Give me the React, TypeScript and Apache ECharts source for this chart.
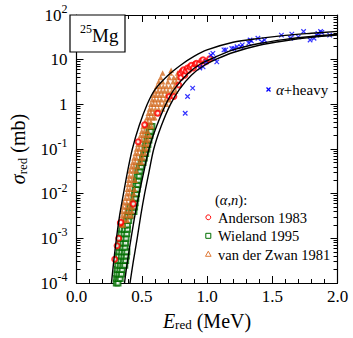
import React, { useEffect, useRef } from 'react';
import * as echarts from 'echarts';

const FONT = 'Liberation Serif';

// ---- data: [E_red (MeV), sigma_red (mb)] ----
const curveA: [number, number][] = [
  [0.268, 1e-4], [0.285, 3e-4], [0.306, 1e-3], [0.33, 3.2e-3], [0.36, 1e-2], [0.39, 3e-2],
  [0.428, 0.1], [0.48, 0.33], [0.542, 1], [0.6, 2.1], [0.7, 4.4], [0.8, 7.6], [0.9, 11.8],
  [1.0, 16.5], [1.2, 24.5], [1.4, 30], [1.6, 35], [1.8, 39], [2.0, 43],
];
const curveB: [number, number][] = [
  [0.368, 1e-4], [0.39, 3e-4], [0.418, 1e-3], [0.447, 3.2e-3], [0.48, 1e-2], [0.515, 3e-2],
  [0.555, 0.1], [0.615, 0.33], [0.684, 1], [0.75, 2.2], [0.85, 4.8], [0.95, 8], [1.05, 11],
  [1.2, 16.5], [1.4, 23], [1.6, 28.5], [1.8, 33], [2.0, 37],
];
const curveC: [number, number][] = [
  [0.41, 1e-4], [0.435, 3e-4], [0.465, 1e-3], [0.492, 3.2e-3], [0.522, 1e-2], [0.555, 3e-2],
  [0.592, 0.1], [0.65, 0.33], [0.72, 1], [0.79, 2.2], [0.88, 4.5], [0.98, 7.5], [1.08, 10.5],
  [1.2, 14.5], [1.4, 21], [1.6, 26.5], [1.8, 31.5], [2.0, 35.5],
];

const anderson1983: [number, number][] = [
  [0.293, 3.4e-4], [0.311, 6.8e-4], [0.323, 1e-3], [0.336, 2.2e-3], [0.34, 2.3e-3], [0.435, 5.9e-3],
  [0.472, 0.145], [0.522, 0.35], [0.622, 0.63], [0.71, 1.5], [0.746, 1.5], [0.784, 2.7],
  [0.796, 4.9], [0.80, 4.0], [0.81, 5.5], [0.82, 5.9], [0.83, 4.5], [0.84, 5.5], [0.85, 6.5],
  [0.86, 5.8], [0.87, 6.9], [0.88, 7.5], [0.896, 6.5], [0.91, 8], [0.92, 8.3], [0.94, 8],
  [0.96, 9.5], [0.97, 10], [0.99, 9], [1.02, 10.5],
];

const wieland1995: [number, number][] = [
  [0.305, 1e-4], [0.318, 1e-4],
  [0.308, 1.26e-4], [0.322, 1.26e-4], [0.335, 1.26e-4],
  [0.31, 1.6e-4], [0.327, 1.6e-4], [0.345, 1.6e-4],
  [0.313, 2e-4], [0.332, 2e-4], [0.35, 2e-4],
  [0.316, 2.5e-4], [0.336, 2.5e-4], [0.355, 2.5e-4], [0.37, 2.5e-4],
  [0.319, 3.2e-4], [0.34, 3.2e-4], [0.36, 3.2e-4], [0.377, 3.2e-4],
  [0.322, 4e-4], [0.343, 4e-4], [0.364, 4e-4], [0.382, 4e-4],
  [0.326, 5e-4], [0.347, 5e-4], [0.368, 5e-4], [0.386, 5e-4],
  [0.33, 6.3e-4], [0.352, 6.3e-4], [0.372, 6.3e-4],
  [0.334, 7.9e-4], [0.356, 7.9e-4], [0.376, 7.9e-4],
  [0.338, 1e-3], [0.36, 1e-3], [0.38, 1e-3],
  [0.342, 1.26e-3], [0.364, 1.26e-3], [0.385, 1.26e-3],
  [0.347, 1.6e-3], [0.368, 1.6e-3], [0.39, 1.6e-3],
  [0.37, 2e-3], [0.39, 2e-3],
  [0.38, 2.5e-3], [0.40, 2.5e-3],
  [0.39, 3.2e-3], [0.41, 3.2e-3],
  [0.40, 4e-3], [0.42, 4e-3], [0.44, 4e-3],
  [0.41, 5e-3], [0.43, 5e-3], [0.445, 5e-3],
  [0.435, 6.3e-3], [0.45, 6.3e-3],
  [0.44, 7.9e-3], [0.455, 7.9e-3],
  [0.445, 1e-2], [0.46, 1e-2],
  [0.45, 1.26e-2], [0.465, 1.26e-2],
  [0.455, 1.6e-2], [0.47, 1.6e-2],
  [0.46, 2e-2], [0.475, 2e-2],
  [0.465, 2.5e-2], [0.48, 2.5e-2],
  [0.47, 3.2e-2], [0.487, 3.2e-2],
  [0.48, 4e-2], [0.497, 4e-2],
  [0.495, 5e-2], [0.51, 5e-2],
  [0.505, 6.3e-2], [0.52, 6.3e-2],
  [0.515, 7.9e-2], [0.53, 7.9e-2],
  [0.525, 0.1], [0.54, 0.1],
  [0.53, 0.126], [0.547, 0.126],
  [0.54, 0.16], [0.555, 0.16],
  [0.548, 0.2], [0.563, 0.2],
  [0.556, 0.25], [0.57, 0.25],
  [0.565, 0.32], [0.578, 0.32],
];

const vanDerZwan1981: [number, number][] = [
  [0.345, 2e-3], [0.36, 2e-3],
  [0.345, 2.5e-3], [0.365, 2.5e-3], [0.39, 2.5e-3],
  [0.35, 3.2e-3], [0.37, 3.2e-3], [0.40, 3.2e-3], [0.42, 3.2e-3],
  [0.35, 4e-3], [0.375, 4e-3], [0.40, 4e-3], [0.425, 4e-3],
  [0.355, 5e-3], [0.38, 5e-3], [0.405, 5e-3], [0.43, 5e-3],
  [0.36, 6.3e-3], [0.385, 6.3e-3], [0.41, 6.3e-3],
  [0.375, 7.9e-3], [0.40, 7.9e-3], [0.43, 7.9e-3],
  [0.385, 1e-2], [0.405, 1e-2], [0.44, 1e-2],
  [0.39, 1.26e-2], [0.41, 1.26e-2], [0.445, 1.26e-2],
  [0.395, 1.6e-2], [0.42, 1.6e-2],
  [0.40, 2e-2], [0.425, 2e-2], [0.45, 2e-2],
  [0.405, 2.5e-2], [0.43, 2.5e-2],
  [0.41, 3.2e-2], [0.435, 3.2e-2], [0.46, 3.2e-2],
  [0.42, 4e-2], [0.44, 4e-2], [0.47, 4e-2],
  [0.43, 5e-2], [0.45, 5e-2], [0.48, 5e-2], [0.50, 5e-2],
  [0.44, 6.3e-2], [0.46, 6.3e-2], [0.49, 6.3e-2], [0.51, 6.3e-2],
  [0.45, 7.9e-2], [0.47, 7.9e-2], [0.50, 7.9e-2], [0.525, 7.9e-2],
  [0.46, 0.1], [0.48, 0.1], [0.51, 0.1], [0.535, 0.1],
  [0.47, 0.126], [0.49, 0.126], [0.52, 0.126], [0.545, 0.126],
  [0.48, 0.16], [0.50, 0.16], [0.53, 0.16], [0.55, 0.16],
  [0.49, 0.2], [0.51, 0.2], [0.535, 0.2], [0.56, 0.2],
  [0.50, 0.25], [0.52, 0.25], [0.545, 0.25],
  [0.51, 0.32], [0.53, 0.32], [0.555, 0.32], [0.575, 0.32],
  [0.525, 0.4], [0.545, 0.4], [0.57, 0.4],
  [0.54, 0.5], [0.56, 0.5], [0.585, 0.5], [0.60, 0.5],
  [0.55, 0.63], [0.57, 0.63], [0.595, 0.63], [0.62, 0.63],
  [0.56, 0.79], [0.58, 0.79], [0.605, 0.79], [0.63, 0.79], [0.66, 0.79],
  [0.57, 1.0], [0.59, 1.0], [0.615, 1.0], [0.64, 1.0], [0.67, 1.0], [0.69, 1.0],
  [0.58, 1.26], [0.60, 1.26], [0.625, 1.26], [0.65, 1.26], [0.68, 1.26], [0.71, 1.26],
  [0.59, 1.6], [0.61, 1.6], [0.635, 1.6], [0.66, 1.6], [0.69, 1.6], [0.72, 1.6], [0.74, 1.6],
  [0.60, 2.0], [0.625, 2.0], [0.65, 2.0], [0.675, 2.0], [0.70, 2.0], [0.73, 2.0], [0.76, 2.0],
  [0.615, 2.5], [0.64, 2.5], [0.665, 2.5], [0.69, 2.5], [0.72, 2.5], [0.75, 2.5],
  [0.63, 3.2], [0.66, 3.2], [0.70, 3.2], [0.74, 3.2], [0.765, 3.2],
  [0.645, 4.0], [0.71, 4.0], [0.745, 4.0], [0.77, 4.0],
  [0.66, 5.0], [0.72, 5.0], [0.775, 5.0],
  [0.725, 5.8],
];

const alphaHeavy: [number, number][] = [
  [0.833, 0.63], [0.851, 1.5], [0.89, 2.3], [0.945, 6.5], [0.97, 6.9], [0.995, 8.9],
  [1.045, 13.8], [1.057, 10.7], [1.075, 8.9], [1.03, 12.6], [1.144, 16.6], [1.13, 16.6],
  [1.19, 17.8], [1.206, 17.8], [1.23, 19.5], [1.26, 19.5], [1.27, 21.4], [1.32, 23.4],
  [1.33, 27.5], [1.34, 26.3], [1.39, 30.2], [1.42, 25.1], [1.44, 27.5], [1.57, 35.5],
  [1.64, 30.2], [1.65, 37.2], [1.70, 32.4], [1.74, 42.7], [1.79, 27.5], [1.82, 30.2],
  [1.84, 35.5], [1.85, 38.9], [1.87, 42.7], [1.88, 40.7], [1.94, 35.5],
];

const legendEntries = ['Anderson 1983', 'Wieland 1995', 'van der Zwan 1981'];

const xLabelFmt = (v: number) => '{b|' + v.toFixed(1) + '}';
const yLabelFmt = (v: number) => {
  const e = Math.round(Math.log10(v));
  if (e === 0) return '{b|1}';
  if (e === 1) return '{b|10}';
  return '{b|10}{s|' + e + '}';
};

export default function App() {
  const ref = useRef<HTMLDivElement>(null);
  useEffect(() => {
    if (!ref.current) return;
    const chart = echarts.init(ref.current, undefined, { renderer: 'svg' });
    const black = '#000';
    const tickCommon = { show: true, inside: true, length: 7, lineStyle: { color: black, width: 1 } };
    const minorCommon = { show: true, length: 4, lineStyle: { color: black, width: 1 } };
    const xBase = {
      type: 'value' as const, min: 0, max: 2, interval: 0.5,
      axisLine: { show: true, onZero: false, lineStyle: { color: black, width: 1.2 } },
      axisTick: tickCommon,
      minorTick: { ...minorCommon, splitNumber: 5 },
      splitLine: { show: false }, minorSplitLine: { show: false },
    };
    const yBase = {
      type: 'log' as const, min: 1e-4, max: 100, logBase: 10, splitNumber: 6,
      axisLine: { show: true, onZero: false, lineStyle: { color: black, width: 1.2 } },
      axisTick: tickCommon,
      minorTick: { ...minorCommon, splitNumber: 9 },
      splitLine: { show: false }, minorSplitLine: { show: false },
    };
    const serif = (size: number, extra: any = {}) => ({ fontFamily: FONT, fontSize: size, color: black, ...extra });
    const gserif = (size: number, extra: any = {}) => ({ fontFamily: FONT, fontSize: size, fill: black, ...extra });
    const option: any = {
      animation: false,
      backgroundColor: '#fff',
      textStyle: { fontFamily: FONT },
      grid: { left: 70, top: 15, right: 15.5, bottom: 55, containLabel: false },
      xAxis: [
        {
          ...xBase, position: 'bottom',
          axisLabel: { formatter: xLabelFmt, margin: 5, color: black, fontFamily: FONT, rich: { b: serif(17) } },
          name: '{i|E}{s|red}{n| (MeV)}', nameLocation: 'middle', nameGap: 27,
          nameTextStyle: {
            color: black, fontFamily: FONT,
            rich: {
              i: serif(20, { fontStyle: 'italic' }),
              s: serif(13, { padding: [8, 0, 0, 0] }),
              n: serif(20),
            },
          },
        },
        { ...xBase, position: 'top', axisLabel: { show: false } },
      ],
      yAxis: [
        {
          ...yBase, position: 'left',
          axisLabel: {
            formatter: yLabelFmt, margin: 9, color: black, fontFamily: FONT,
            rich: { b: serif(17), s: serif(12, { padding: [0, 0, 12, 0] }) },
          },
          name: '{i|σ}{s|red}{n| (mb)}', nameLocation: 'middle', nameGap: 48,
          nameTextStyle: {
            color: black, fontFamily: FONT,
            rich: {
              i: serif(20, { fontStyle: 'italic' }),
              s: serif(13, { padding: [8, 0, 0, 0] }),
              n: serif(20),
            },
          },
        },
        { ...yBase, position: 'right', axisLabel: { show: false } },
      ],
      series: [
        {
          name: legendEntries[1], type: 'scatter', data: wieland1995, symbol: 'emptyRect', symbolSize: 5,
          itemStyle: { color: '#006e00', borderWidth: 1 }, z: 2,
        },
        {
          name: legendEntries[2], type: 'scatter', data: vanDerZwan1981, symbol: 'triangle', symbolSize: 5.5,
          itemStyle: { color: '#d2691e' }, z: 3,
        },
        {
          name: legendEntries[0], type: 'scatter', data: anderson1983, symbol: 'emptyCircle', symbolSize: 5,
          itemStyle: { color: '#ff0000', borderWidth: 1 }, z: 4,
        },
        {
          name: 'α+heavy', type: 'scatter', data: alphaHeavy, symbol: 'path://M0,0L10,10M10,0L0,10', symbolSize: 4.5,
          itemStyle: { color: 'none', borderColor: '#0000ff', borderWidth: 1.2 }, z: 4,
        },
        ...[curveA, curveB, curveC].map((c, i) => ({
          name: 'curve' + i, type: 'line', data: c, showSymbol: false, symbol: 'none', smooth: 0.3,
          lineStyle: { color: black, width: 1.4 }, z: 6, clip: true,
        })),
      ],
      graphic: [
        { type: 'rect', shape: { x: 70, y: 15, width: 55, height: 37 }, style: { fill: '#fff', stroke: black, lineWidth: 1.2 }, z: 10 },
        {
          type: 'text', x: 80, y: 35, z: 11,
          style: {
            text: '{s|25}{n|Mg}', verticalAlign: 'middle', align: 'left',
            rich: { s: gserif(12, { padding: [0, 0, 12, 0] }), n: gserif(19) },
          },
        },
        // alpha+heavy legend
        { type: 'line', shape: { x1: 266.5, y1: 87.5, x2: 270.5, y2: 91.5 }, style: { stroke: '#0000ff', lineWidth: 1.2 }, z: 10 },
        { type: 'line', shape: { x1: 270.5, y1: 87.5, x2: 266.5, y2: 91.5 }, style: { stroke: '#0000ff', lineWidth: 1.2 }, z: 10 },
        {
          type: 'text', x: 276, y: 90, z: 10,
          style: {
            text: '{i|α}{n|+heavy}', verticalAlign: 'middle', align: 'left',
            rich: { i: gserif(15, { fontStyle: 'italic' }), n: gserif(15) },
          },
        },
        // (alpha,n) legend
        {
          type: 'text', x: 215, y: 200, z: 10,
          style: {
            text: '{n|(}{i|α}{n|,}{i|n}{n|):}', verticalAlign: 'middle', align: 'left',
            rich: { i: gserif(14.5, { fontStyle: 'italic' }), n: gserif(14.5) },
          },
        },
        { type: 'circle', shape: { cx: 208.3, cy: 217.3, r: 2.4 }, style: { fill: '#fff', stroke: '#ff0000', lineWidth: 1 }, z: 10 },
        { type: 'text', x: 218, y: 217.5, z: 10, style: { text: '{n|' + legendEntries[0] + '}', rich: { n: gserif(14.5) }, verticalAlign: 'middle', align: 'left' } },
        { type: 'rect', shape: { x: 205.8, y: 233.3, width: 5, height: 5 }, style: { fill: '#fff', stroke: '#006e00', lineWidth: 1 }, z: 10 },
        { type: 'text', x: 218, y: 236, z: 10, style: { text: '{n|' + legendEntries[1] + '}', rich: { n: gserif(14.5) }, verticalAlign: 'middle', align: 'left' } },
        { type: 'polygon', shape: { points: [[208.3, 251.2], [211.1, 256.3], [205.5, 256.3]] }, style: { fill: '#fff', stroke: '#e07b39', lineWidth: 1 }, z: 10 },
        { type: 'text', x: 218, y: 254.5, z: 10, style: { text: '{n|' + legendEntries[2] + '}', rich: { n: gserif(14.5) }, verticalAlign: 'middle', align: 'left' } },
      ],
    };
    chart.setOption(option);
    return () => chart.dispose();
  }, []);
  return <div ref={ref} style={{ position: 'fixed', left: 0, top: 0, width: 353, height: 338, background: '#fff' }} />;
}
